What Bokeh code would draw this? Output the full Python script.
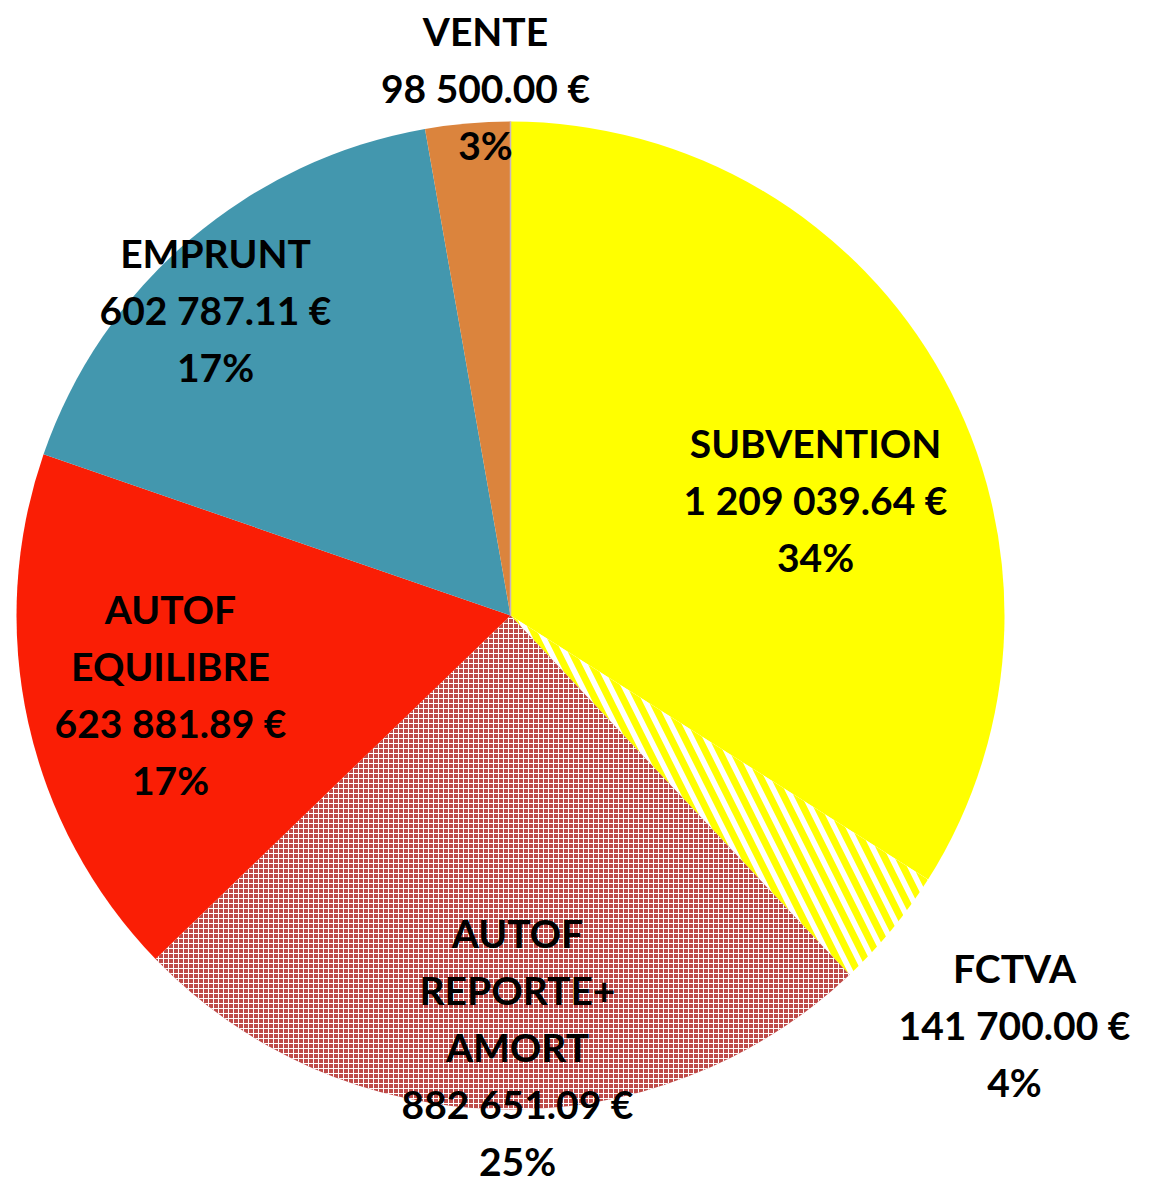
import numpy as np
from bokeh.plotting import figure
from bokeh.models import Range1d, ColumnDataSource
from bokeh.core.properties import value
from bokeh.embed import file_html
from bokeh.resources import INLINE

# ---- data ----
categories = ["SUBVENTION", "FCTVA", "AUTOF REPORTE+ AMORT", "AUTOF EQUILIBRE", "EMPRUNT", "VENTE"]
amounts = [1209039.64, 141700.00, 882651.09, 623881.89, 602787.11, 98500.00]
amount_labels = ["1 209 039.64 €", "141 700.00 €", "882 651.09 €", "623 881.89 €", "602 787.11 €", "98 500.00 €"]
pct_labels = ["34%", "4%", "25%", "17%", "17%", "3%"]
name_lines = [["SUBVENTION"], ["FCTVA"], ["AUTOF", "REPORTE+", "AMORT"], ["AUTOF", "EQUILIBRE"], ["EMPRUNT"], ["VENTE"]]

# ---- styles / layout ----
colors = ["#FFFF00", "#FFFFFF", "#BE4A48", "#FA1E05", "#4397AE", "#DB843D"]
hatches = [None, "left_diagonal_line", "cross", None, None, None]
hatch_colors = ["#FFFF00", "#FFFF00", "#FFFFFF", "#FA1E05", "#4397AE", "#DB843D"]
label_xy = [(815, 442), (1014, 967), (517, 932), (170, 608), (215, 252), (485, 30)]
LINE_H = 57

W, H = 1138, 1185
CX, CY, R = 510, 615, 494

p = figure(width=W, height=H, output_backend="svg", toolbar_location=None,
           x_range=Range1d(0, W), y_range=Range1d(-H, 0),
           min_border=0, outline_line_color=None)
p.axis.visible = False
p.grid.visible = False

vals = np.array(amounts)
fr = vals / vals.sum()
ends = np.cumsum(fr)
starts = ends - fr
start_ang = np.pi / 2 - starts * 2 * np.pi
end_ang = np.pi / 2 - ends * 2 * np.pi

for i in range(len(categories)):
    kw = {}
    if hatches[i]:
        kw = dict(hatch_pattern=hatches[i], hatch_color=hatch_colors[i])
        if hatches[i] == "cross":
            kw.update(hatch_scale=5, hatch_weight=1)
        else:
            kw.update(hatch_scale=28, hatch_weight=7)
    p.wedge(x=CX, y=-CY, radius=R, start_angle=start_ang[i], end_angle=end_ang[i],
            direction="clock", fill_color=colors[i], line_color=None, **kw)

# thin separator at top
p.segment(x0=CX, y0=-CY, x1=CX, y1=-CY + R, line_color="#C8B4C0", line_width=1.5)

xs, ys, ts = [], [], []
for i in range(len(categories)):
    lines = name_lines[i] + [amount_labels[i], pct_labels[i]]
    x0, y0 = label_xy[i]
    for k, t in enumerate(lines):
        xs.append(x0)
        ys.append(-(y0 + k * LINE_H))
        ts.append(t)
src = ColumnDataSource(dict(x=xs, y=ys, t=ts))
p.text(x="x", y="y", text="t", source=src, text_align="center", text_baseline="middle",
       text_font=value("Lato"), text_font_style="bold", text_font_size="39px", text_color="black")

open("out.html", "w").write(file_html(p, INLINE))
